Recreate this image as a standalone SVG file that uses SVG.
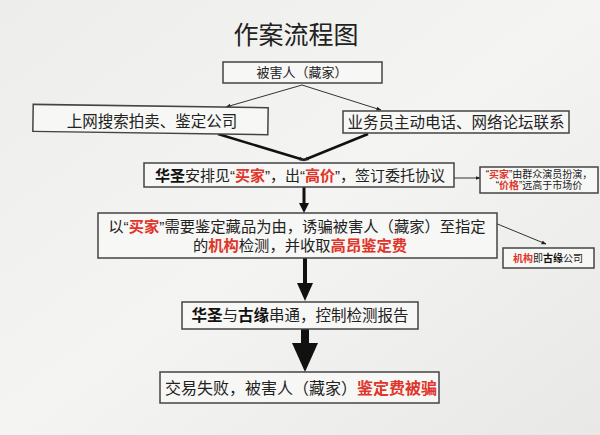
<svg xmlns="http://www.w3.org/2000/svg" width="600" height="435" viewBox="0 0 600 435">
<defs>
<linearGradient id="bg" x1="0" y1="0" x2="1" y2="1">
<stop offset="0" stop-color="#ededeb"/>
<stop offset="0.5" stop-color="#f4f4f2"/>
<stop offset="1" stop-color="#e8e8e6"/>
</linearGradient>
<marker id="sm" viewBox="0 0 10 10" refX="9" refY="5" markerWidth="5" markerHeight="5" orient="auto" markerUnits="userSpaceOnUse">
<path d="M0,1 L10,5 L0,9 z" fill="#222"/>
</marker>
</defs>
<style>
text{font-family:"Liberation Sans","Noto Sans CJK SC","Noto Sans CJK TC",sans-serif;fill:#222;text-anchor:middle}
.box{fill:#f7f7f5;stroke:#444;stroke-width:1.5}
.r{fill:#e0352a;font-weight:bold}
.b{font-weight:bold;fill:#111}
.thin{stroke:#333;stroke-width:1;fill:none}
.thick{stroke:#111;fill:none}
</style>
<rect x="0" y="0" width="600" height="435" fill="url(#bg)"/>
<text x="296" y="44" font-size="25" fill="#111">作案流程图</text>

<g id="connectors">
<line class="thin" x1="302" y1="85" x2="226" y2="107" marker-end="url(#sm)"/>
<line class="thin" x1="302" y1="85" x2="381" y2="110" marker-end="url(#sm)"/>
<line class="thick" stroke-width="2.5" x1="218" y1="134" x2="304" y2="160" marker-end="url(#sm)"/>
<line class="thick" stroke-width="2.5" x1="368" y1="134" x2="304" y2="160" marker-end="url(#sm)"/>
<line class="thin" x1="454" y1="178" x2="480" y2="178" marker-end="url(#sm)"/>
<line class="thick" stroke-width="3" x1="304" y1="187" x2="304" y2="204"/>
<path d="M299,203 L309,203 L304,213 z" fill="#111"/>
<line class="thin" x1="495" y1="223" x2="546" y2="244" marker-end="url(#sm)"/>
<line class="thick" stroke-width="4" x1="305" y1="258" x2="305" y2="284"/>
<path d="M297,283 L313,283 L305,301 z" fill="#111"/>
<line class="thick" stroke-width="8" x1="305" y1="329" x2="305" y2="344"/>
<path d="M292,343 L318,343 L305,372 z" fill="#111"/>
</g>

<g id="n1">
<rect class="box" x="223" y="62" width="159" height="21"/>
<text x="302" y="77" font-size="13">被害人（藏家）</text>
</g>
<g id="n2">
<rect class="box" x="33" y="106" width="235" height="27" transform="rotate(0.8 150 120)"/>
<text x="152" y="127" font-size="15.5">上网搜索拍卖、鉴定公司</text>
</g>
<g id="n3">
<rect class="box" x="343" y="111" width="226" height="22"/>
<text x="456" y="128" font-size="15.5">业务员主动电话、网络论坛联系</text>
</g>
<g id="n4">
<rect class="box" x="144" y="163" width="310" height="24"/>
<text x="300" y="181" font-size="15"><tspan class="b">华圣</tspan>安排见“<tspan class="r">买家</tspan>”，出“<tspan class="r">高价</tspan>”，签订委托协议</text>
</g>
<g id="n4note">
<rect class="box" x="480" y="167" width="118" height="26" stroke-width="1.2"/>
<text x="539" y="178" font-size="10">“<tspan class="r">买家</tspan>”由群众演员扮演，</text>
<text x="539" y="189" font-size="10">“<tspan class="r">价格</tspan>”远高于市场价</text>
</g>
<g id="n5">
<rect class="box" x="98" y="213" width="399" height="45"/>
<text x="297" y="232" font-size="15.3">以“<tspan class="r">买家</tspan>”需要鉴定藏品为由，诱骗被害人（藏家）至指定</text>
<text x="300" y="251" font-size="15.3">的<tspan class="r">机构</tspan>检测，并收取<tspan class="r">高昂鉴定费</tspan></text>
</g>
<g id="n5note">
<rect class="box" x="503" y="248" width="91" height="20" stroke-width="1.2"/>
<text x="548" y="262" font-size="10"><tspan class="r">机构</tspan>即<tspan class="b">古缘</tspan>公司</text>
</g>
<g id="n6">
<rect class="box" x="182" y="302" width="236" height="27"/>
<text x="300" y="321" font-size="15.5"><tspan class="b">华圣</tspan>与<tspan class="b">古缘</tspan>串通，控制检测报告</text>
</g>
<g id="n7">
<rect class="box" x="160" y="372" width="279" height="31"/>
<text x="301" y="394" font-size="16">交易失败，被害人（藏家）<tspan class="r">鉴定费被骗</tspan></text>
</g>
</svg>
